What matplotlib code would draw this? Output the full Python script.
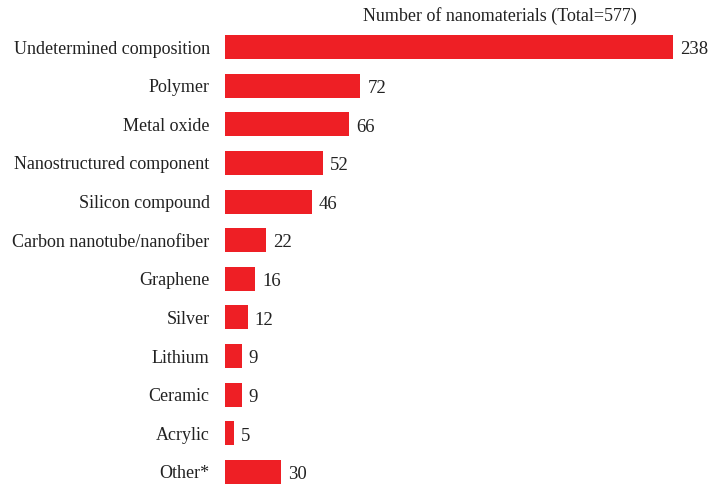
import matplotlib
matplotlib.use("Agg")
import matplotlib.pyplot as plt

categories = ["Undetermined composition", "Polymer", "Metal oxide",
              "Nanostructured component", "Silicon compound",
              "Carbon nanotube/nanofiber", "Graphene", "Silver", "Lithium",
              "Ceramic", "Acrylic", "Other*"]
counts = [238, 72, 66, 52, 46, 22, 16, 12, 9, 9, 5, 30]
title = "Number of nanomaterials (Total=577)"

plt.rcParams['font.family'] = ['Liberation Serif', 'DejaVu Serif']

fig = plt.figure(figsize=(7.21, 4.87), dpi=100)
ax = fig.add_axes([0.312, 0.0, 0.678, 0.943])

y = list(range(len(categories)))
ax.barh(y, counts, height=0.62, color='#ee1f25')
for yi, c in zip(y, counts):
    ax.text(c + 3.7, yi + 0.07, str(c), va='center', ha='left', fontsize=13.5, color='#222222')

ax.set_xlim(0, 259.7)
ax.set_ylim(11.389, -0.5)
ax.set_yticks(y)
ax.set_yticklabels(categories, fontsize=13, color='#222222')
ax.tick_params(axis='y', length=0, pad=11)
ax.set_xticks([])
for s in ax.spines.values():
    s.set_visible(False)

fig.text(0.693, 0.967, title, ha='center', va='center', fontsize=13, color='#222222')

fig.savefig("out.png", dpi=100)
